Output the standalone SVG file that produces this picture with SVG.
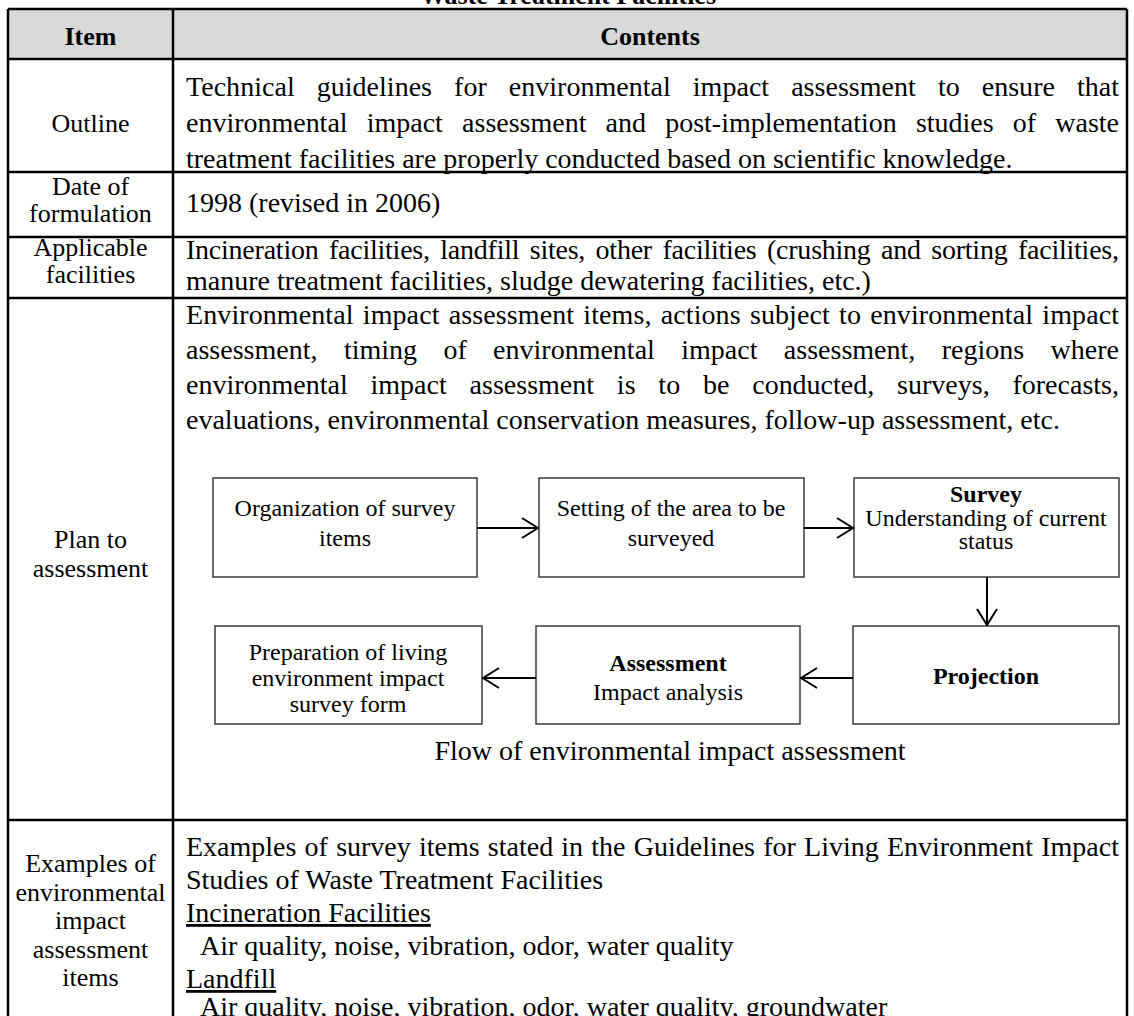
<svg xmlns="http://www.w3.org/2000/svg" width="1134" height="1016" viewBox="0 0 1134 1016">
<defs>
<style>
text{font-family:"Liberation Serif","Times New Roman",serif;font-size:28px;fill:#000}
.c{text-anchor:middle}
.lc{font-size:26px}
.hd{font-size:26px;font-weight:bold}
.bx{font-size:24px}
.bd{font-weight:bold}
.u{text-decoration:underline}
.ln{stroke:#000;stroke-width:2.5;fill:none}
.box{fill:#fff;stroke:#3a3a3a;stroke-width:1.5}
.ar{stroke:#000;stroke-width:2;fill:none;marker-end:url(#ah)}
</style>
<marker id="ah" markerUnits="userSpaceOnUse" markerWidth="18" markerHeight="22" viewBox="-1 -1 18 22" refX="16" refY="10" orient="auto">
<path d="M0,0 L16,10 L0,20" fill="none" stroke="#000" stroke-width="2"/>
</marker>
</defs>
<rect width="1134" height="1016" fill="#fff"/>
<text class="c bd" x="568" y="3.5" style="font-size:26px">Waste Treatment Facilities</text>

<g id="table">
<rect x="8" y="9" width="1119" height="50" fill="#d9d9d9"/>
<path class="ln" d="M8,9 H1127 M8,9 V1020 M173,9 V1020 M1127,9 V1020 M8,59 H1127 M8,172 H1127 M8,237 H1127 M8,298 H1127 M8,820 H1127"/>
</g>

<g id="header">
<text class="c hd" x="90.5" y="45">Item</text>
<text class="c hd" x="650" y="45">Contents</text>
</g>

<g id="row-outline">
<text class="c lc" x="90.5" y="132">Outline</text>
<text x="186" y="96" word-spacing="14.95" textLength="933" lengthAdjust="spacing">Technical guidelines for environmental impact assessment to ensure that</text>
<text x="186" y="132" word-spacing="12.19" textLength="933" lengthAdjust="spacing">environmental impact assessment and post-implementation studies of waste</text>
<text x="186" y="168">treatment facilities are properly conducted based on scientific knowledge.</text>
</g>

<g id="row-date">
<text class="c lc" x="90.5" y="195">Date of</text>
<text class="c lc" x="90.5" y="222">formulation</text>
<text x="186" y="212">1998 (revised in 2006)</text>
</g>

<g id="row-applicable">
<text class="c lc" x="90.5" y="256">Applicable</text>
<text class="c lc" x="90.5" y="283">facilities</text>
<text x="186" y="259" word-spacing="3.7" textLength="933" lengthAdjust="spacing">Incineration facilities, landfill sites, other facilities (crushing and sorting facilities,</text>
<text x="186" y="290">manure treatment facilities, sludge dewatering facilities, etc.)</text>
</g>

<g id="row-plan">
<text class="c lc" x="90.5" y="548">Plan to</text>
<text class="c lc" x="90.5" y="577">assessment</text>
<text x="186" y="324" word-spacing="2.1" textLength="933" lengthAdjust="spacing">Environmental impact assessment items, actions subject to environmental impact</text>
<text x="186" y="359" word-spacing="19.4" textLength="933" lengthAdjust="spacing">assessment, timing of environmental impact assessment, regions where</text>
<text x="186" y="394" word-spacing="15.8" textLength="933" lengthAdjust="spacing">environmental impact assessment is to be conducted, surveys, forecasts,</text>
<text x="186" y="429">evaluations, environmental conservation measures, follow-up assessment, etc.</text>
<text class="c" x="670" y="760">Flow of environmental impact assessment</text>
</g>

<g id="node-organization">
<rect class="box" x="213" y="478" width="264" height="99"/>
<text class="c bx" x="345" y="516">Organization of survey</text>
<text class="c bx" x="345" y="546">items</text>
</g>
<g id="node-setting">
<rect class="box" x="539" y="478" width="265" height="99"/>
<text class="c bx" x="671" y="516">Setting of the area to be</text>
<text class="c bx" x="671" y="546">surveyed</text>
</g>
<g id="node-survey">
<rect class="box" x="854" y="478" width="265" height="99"/>
<text class="c bx bd" x="986" y="502">Survey</text>
<text class="c bx" x="986" y="526">Understanding of current</text>
<text class="c bx" x="986" y="549">status</text>
</g>
<g id="node-projection">
<rect class="box" x="853" y="626" width="266" height="98"/>
<text class="c bx bd" x="986" y="684">Projection</text>
</g>
<g id="node-assessment">
<rect class="box" x="536" y="626" width="264" height="98"/>
<text class="c bx bd" x="668" y="671">Assessment</text>
<text class="c bx" x="668" y="700">Impact analysis</text>
</g>
<g id="node-preparation">
<rect class="box" x="215" y="626" width="267" height="98"/>
<text class="c bx" x="348" y="660">Preparation of living</text>
<text class="c bx" x="348" y="686">environment impact</text>
<text class="c bx" x="348" y="712">survey form</text>
</g>

<g id="connectors">
<path class="ar" d="M477,528 H538"/>
<path class="ar" d="M804,528 H853"/>
<path class="ar" d="M987,577 V625"/>
<path class="ar" d="M853,678 H801"/>
<path class="ar" d="M536,678 H483"/>
</g>

<g id="row-examples">
<text class="c lc" x="90.5" y="872">Examples of</text>
<text class="c lc" x="90.5" y="901">environmental</text>
<text class="c lc" x="90.5" y="929">impact</text>
<text class="c lc" x="90.5" y="958">assessment</text>
<text class="c lc" x="90.5" y="986">items</text>
<text x="186" y="856" word-spacing="1.2" textLength="933" lengthAdjust="spacing">Examples of survey items stated in the Guidelines for Living Environment Impact</text>
<text x="186" y="889">Studies of Waste Treatment Facilities</text>
<text class="u" x="186" y="922">Incineration Facilities</text>
<text x="200" y="955">Air quality, noise, vibration, odor, water quality</text>
<text class="u" x="186" y="988">Landfill</text>
<text x="200" y="1016">Air quality, noise, vibration, odor, water quality, groundwater</text>
</g>
</svg>
